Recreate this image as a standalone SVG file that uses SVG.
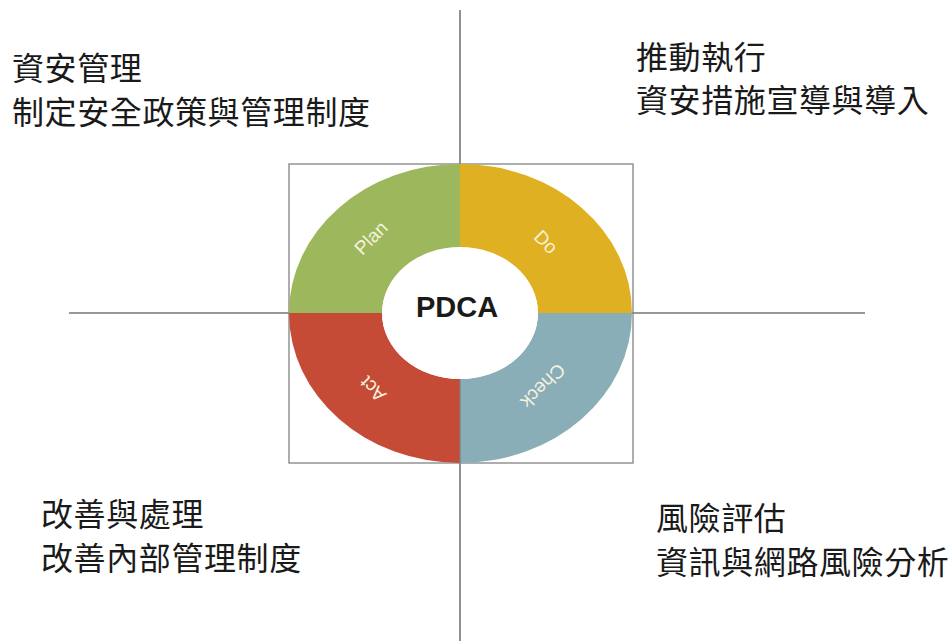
<svg xmlns="http://www.w3.org/2000/svg" width="952" height="641" viewBox="0 0 952 641">
<style>
.cjk{font-family:"Noto Sans CJK TC","Noto Sans CJK SC",sans-serif;font-size:32px;fill:#1a1a1a;letter-spacing:0.6px}
.lbl{font-family:"Liberation Sans",Arial,sans-serif;font-size:19px;fill:#f6f2dc;text-anchor:middle;dominant-baseline:central}
.axis{stroke:#6f7878;stroke-width:1.6;fill:none}
</style>
<rect width="952" height="641" fill="#ffffff"/>
<g id="connectors">
<line class="axis" x1="460" y1="10" x2="460" y2="641"/>
<line class="axis" x1="69" y1="313" x2="865" y2="313" stroke="#8a8a74"/>
</g>
<g id="frame">
<rect x="289" y="164" width="344" height="299" fill="none" stroke="#8c8c8c" stroke-width="1.4"/>
</g>
<g id="plan">
<path d="M289,313 A171,149 0 0 1 460,164 L460,248 A78,66 0 0 0 382,313 Z" fill="#9db75c"/>
<text class="lbl" transform="translate(371,238) rotate(-45)">Plan</text>
</g>
<g id="do">
<path d="M460,164 A172,149 0 0 1 632,313 L538,313 A78,66 0 0 0 460,248 Z" fill="#e0b023"/>
<text class="lbl" transform="translate(546,242) rotate(45)">Do</text>
</g>
<g id="check">
<path d="M632,313 A172,150 0 0 1 460,463 L460,379 A78,66 0 0 0 538,313 Z" fill="#8aaeb8"/>
<text class="lbl" transform="translate(543,386) rotate(135)">Check</text>
</g>
<g id="act">
<path d="M460,463 A171,150 0 0 1 289,313 L382,313 A78,66 0 0 0 460,379 Z" fill="#c64b37"/>
<text class="lbl" transform="translate(373,389) rotate(-135)">Act</text>
</g>
<line x1="460" y1="379" x2="460" y2="463" stroke="#7a7f80" stroke-width="1.2"/>
<g id="center">
<ellipse cx="460" cy="313" rx="78" ry="66" fill="#ffffff"/>
<text x="457" y="317" font-family="Liberation Sans,Arial,sans-serif" font-size="29" font-weight="bold" fill="#1a1a1a" text-anchor="middle">PDCA</text>
</g>
<g id="plan-text">
<text class="cjk" x="12" y="80">資安管理</text>
<text class="cjk" x="12" y="124">制定安全政策與管理制度</text>
</g>
<g id="do-text">
<text class="cjk" x="636" y="69">推動執行</text>
<text class="cjk" x="636" y="112">資安措施宣導與導入</text>
</g>
<g id="act-text">
<text class="cjk" x="41" y="526">改善與處理</text>
<text class="cjk" x="41" y="570">改善內部管理制度</text>
</g>
<g id="check-text">
<text class="cjk" x="656" y="530">風險評估</text>
<text class="cjk" x="656" y="574">資訊與網路風險分析</text>
</g>
</svg>
